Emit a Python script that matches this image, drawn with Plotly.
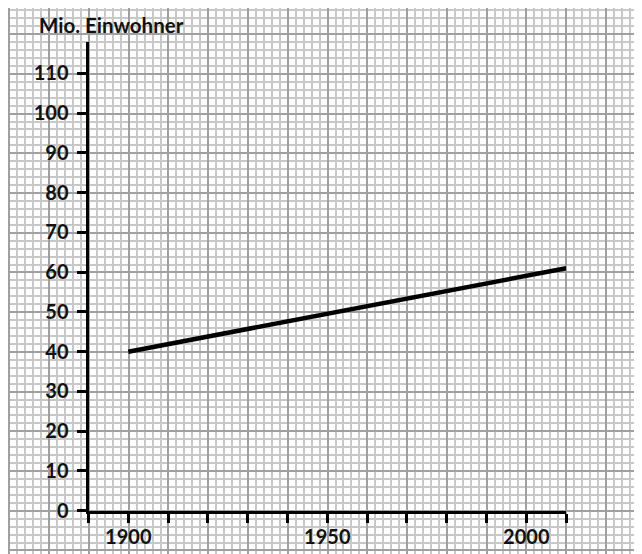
import plotly.graph_objects as go

# Data
years = [1900, 2010]
population = [40, 61]
x_tick_vals = [1890, 1900, 1910, 1920, 1930, 1940, 1950, 1960, 1970, 1980, 1990, 2000, 2010]
x_tick_text = ["", "1900", "", "", "", "", "1950", "", "", "", "", "2000", ""]
y_tick_vals = [0, 10, 20, 30, 40, 50, 60, 70, 80, 90, 100, 110]
y_tick_text = [str(v) for v in y_tick_vals]

# the page body adds an 8px margin; positions below are figure pixels
# (reference pixels minus 8).
OFF = 8
W, H = 642 - OFF, 554 - OFF
x0px, pxy = 128.3 - OFF, 3.98     # pixel of 1900, pixels per year
y0px, pxv = 510.7 - OFF, 3.975    # pixel of value 0, pixels per unit

def yr(px):
    return 1900 + (px - x0px) / pxy

def val(py):
    return (y0px - py) / pxv

font_family = "Lato, Open Sans, sans-serif"
lab_font = dict(family=font_family, size=20, color="#111111", weight="bold")

fig = go.Figure()

# invisible trace for the graph-paper grid axes
fig.add_trace(go.Scatter(x=[yr(20)], y=[val(20)], mode="markers",
                         marker=dict(opacity=0), xaxis="x", yaxis="y",
                         hoverinfo="skip", showlegend=False))

# data line
fig.add_trace(go.Scatter(x=years, y=population, mode="lines",
                         line=dict(color="black", width=4.5),
                         xaxis="x2", yaxis="y2", showlegend=False))

gx0, gx1 = 0, W
gy0, gy1 = 0, H
grid_major = "#a0a0a0"
grid_minor = "#c8c8c8"

fig.update_layout(
    width=W, height=H,
    margin=dict(l=0, r=0, t=0, b=0, pad=0),
    paper_bgcolor="white",
    plot_bgcolor="rgba(0,0,0,0)",
    showlegend=False,
    xaxis=dict(
        domain=[gx0 / W, gx1 / W], range=[yr(gx0 - 0.5), yr(gx1)],
        showgrid=True, gridcolor=grid_major, gridwidth=2,
        tick0=1870, dtick=10, showticklabels=False, ticks="",
        zeroline=False, showline=False, fixedrange=True, automargin=False,
        minor=dict(showgrid=True, dtick=2, tick0=1870, gridcolor=grid_minor, gridwidth=1.5),
        anchor="y",
    ),
    yaxis=dict(
        domain=[(H - gy1) / H, (H - gy0) / H], range=[val(gy1), val(gy0 - 0.5)],
        showgrid=True, gridcolor=grid_major, gridwidth=2,
        tick0=0, dtick=10, showticklabels=False, ticks="",
        zeroline=False, showline=False, fixedrange=True, automargin=False,
        minor=dict(showgrid=True, dtick=2, tick0=0, gridcolor=grid_minor, gridwidth=1.5),
        anchor="x",
    ),
    xaxis2=dict(
        domain=[(x0px - 10 * pxy) / W, (x0px + 110 * pxy) / W],
        range=[1890, 2010],
        showgrid=False, zeroline=False, automargin=False,
        showline=True, linecolor="black", linewidth=3,
        ticks="outside", ticklen=9, tickwidth=2.5, tickcolor="black",
        tickmode="array", tickvals=x_tick_vals, ticktext=x_tick_text,
        tickfont=lab_font, ticklabelstandoff=-3,
        anchor="y2",
    ),
    yaxis2=dict(
        domain=[(H - y0px) / H, (H - (41.7 - OFF)) / H],
        range=[0, val(41.7 - OFF)],
        showgrid=False, zeroline=False, automargin=False,
        showline=True, linecolor="black", linewidth=3,
        ticks="outside", ticklen=9, tickwidth=2.5, tickcolor="black",
        tickmode="array", tickvals=y_tick_vals, ticktext=y_tick_text,
        tickfont=lab_font, ticklabelstandoff=4,
        anchor="x2",
    ),
    annotations=[dict(
        text="Mio. Einwohner", xref="paper", yref="paper",
        x=(37 - OFF) / W, y=(H - (25 - OFF)) / H, xanchor="left", yanchor="middle",
        showarrow=False, font=dict(family=font_family, size=20.5, color="#111111", weight="bold"),
    )],
)

fig.write_html("out.html")
